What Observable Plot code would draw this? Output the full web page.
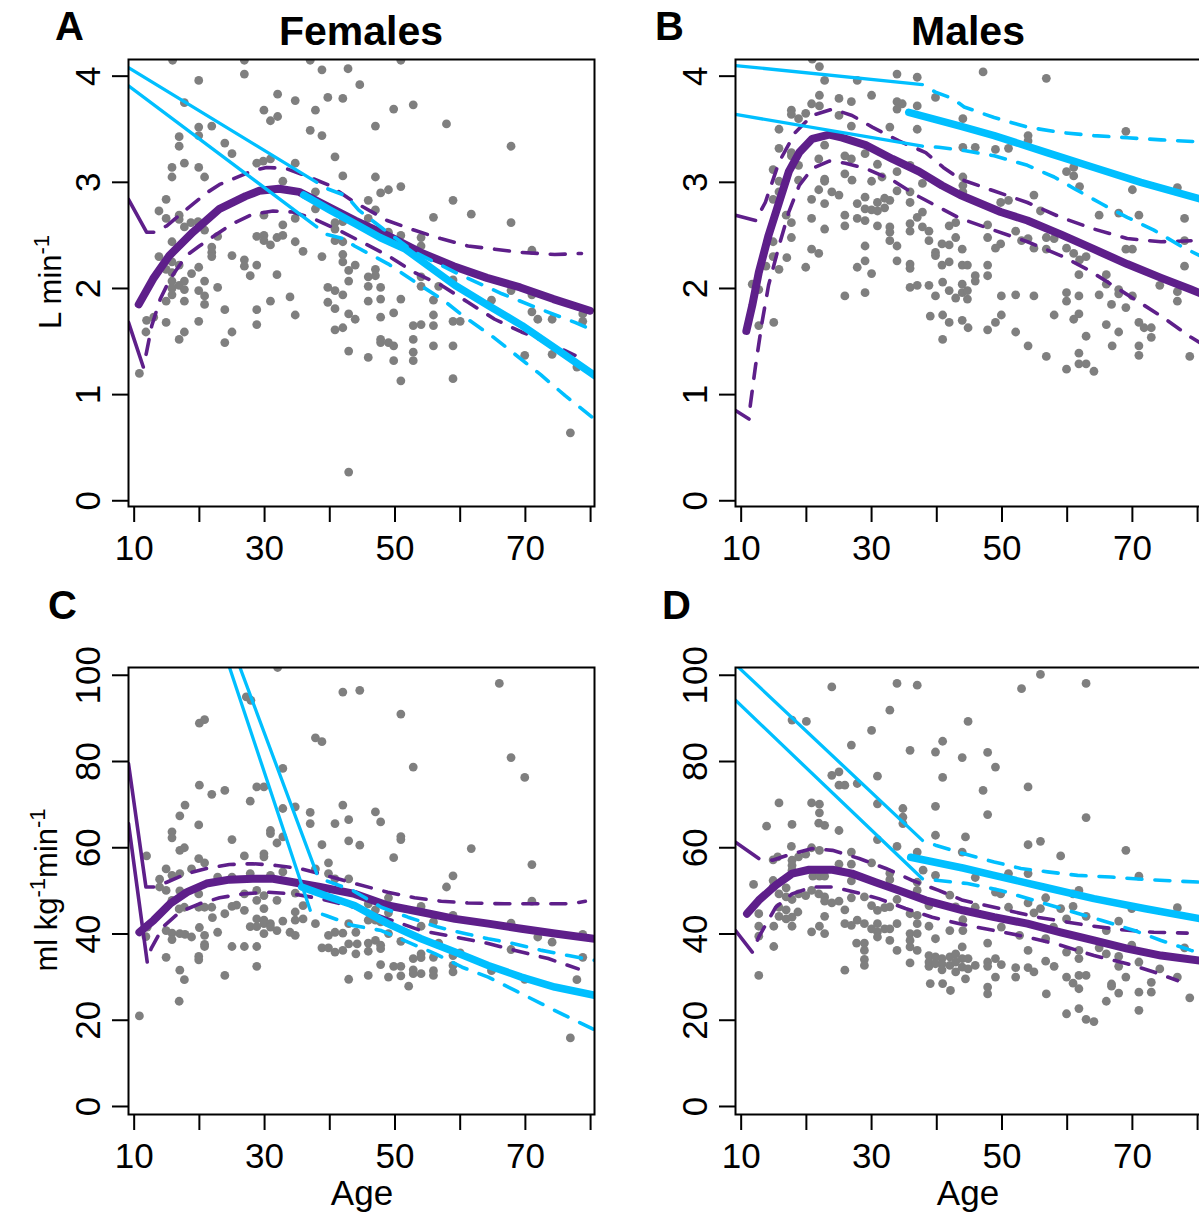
<!DOCTYPE html>
<html><head><meta charset="utf-8">
<script src="https://cdn.jsdelivr.net/npm/d3@7"></script>
<script src="https://cdn.jsdelivr.net/npm/@observablehq/plot@0.6"></script>
<style>
html,body{margin:0;padding:0;background:#fff;}
#wrap{position:relative;width:1199px;height:1213px;overflow:hidden;background:#fff;}
#wrap > svg{position:absolute;}
</style></head><body><div id="wrap"></div>
<script>
// ---------- tick values ----------
const xTickValues = [10, 20, 30, 40, 50, 60, 70, 80];
const xTickLabels = [10, 30, 50, 70];
const yTicksAbs = [0, 1, 2, 3, 4];
const yTicksRel = [0, 20, 40, 60, 80, 100];
const panelTitles = ["Females", "Males"];
const panelLetters = ["A", "B", "C", "D"];

// ---------- points [age, value] ----------
const femAbsPts = [[15.9,4.15],[26.9,4.15],[37.0,4.15],[19.9,3.96],[26.9,4.02],[38.8,4.06],[42.8,4.07],[44.6,3.92],[17.7,3.75],[32.0,3.83],[34.7,3.77],[39.7,3.80],[42.0,3.79],[29.9,3.68],[32.0,3.62],[30.9,3.58],[37.8,3.68],[19.9,3.52],[21.9,3.53],[19.9,3.44],[37.0,3.49],[38.8,3.44],[16.9,3.43],[16.9,3.34],[23.9,3.37],[25.0,3.27],[17.7,3.18],[15.8,3.14],[15.8,3.05],[19.9,3.14],[20.8,3.05],[40.8,3.24],[28.8,3.18],[29.8,3.20],[30.9,3.22],[34.7,3.18],[32.8,3.01],[42.0,3.06],[14.9,2.84],[13.8,2.73],[14.9,2.66],[16.9,2.69],[16.9,2.65],[17.7,2.58],[18.7,2.62],[20.8,2.55],[19.8,2.63],[29.9,2.69],[34.7,2.66],[32.8,2.60],[37.8,2.91],[37.8,2.75],[40.8,2.62],[40.8,2.56],[42.0,2.63],[15.8,2.44],[22.8,2.49],[28.8,2.49],[29.9,2.50],[29.9,2.45],[30.9,2.41],[31.9,2.48],[32.8,2.50],[34.7,2.44],[35.9,2.35],[40.8,2.45],[42.0,2.44],[13.8,2.30],[15.8,2.25],[14.9,2.18],[16.9,2.22],[15.8,2.15],[21.9,2.39],[21.9,2.34],[21.9,2.30],[25.0,2.31],[26.9,2.27],[26.9,2.21],[28.8,2.22],[27.8,2.12],[38.8,2.30],[42.0,2.32],[42.0,2.25],[43.9,2.22],[18.8,2.14],[19.9,2.20],[15.8,2.07],[17.7,2.07],[16.9,2.03],[15.8,2.00],[17.7,1.99],[15.8,1.94],[14.9,1.88],[17.7,1.88],[19.9,1.98],[20.8,2.07],[22.8,2.01],[20.8,1.93],[20.8,1.85],[31.9,2.13],[30.9,1.88],[33.9,1.92],[39.7,2.01],[40.8,1.98],[42.0,1.94],[39.7,1.87],[40.8,1.81],[42.9,2.07],[42.9,2.17],[42.9,1.76],[43.9,1.71],[11.9,1.70],[13.0,1.73],[14.9,1.68],[19.9,1.69],[23.9,1.80],[28.8,1.80],[11.8,1.59],[17.7,1.59],[16.9,1.52],[25.0,1.59],[23.9,1.49],[28.8,1.66],[34.7,1.75],[40.8,1.61],[42.0,1.63],[42.9,1.41],[10.8,1.20],[42.9,0.27],
[50.9,4.15],[49.8,3.69],[52.8,3.73],[47.0,3.53],[57.9,3.55],[67.8,3.34],[47.0,3.05],[47.8,2.90],[49.0,2.93],[50.9,2.96],[45.9,2.83],[58.9,2.83],[47.0,2.74],[45.9,2.66],[55.9,2.67],[61.7,2.70],[67.8,2.62],[49.0,2.53],[50.9,2.50],[54.0,2.48],[54.0,2.40],[71.0,2.36],[47.0,2.18],[45.9,2.11],[47.0,2.12],[45.9,2.02],[47.8,2.01],[54.0,2.11],[54.0,2.02],[56.7,2.02],[58.9,2.08],[45.9,1.88],[47.8,1.90],[50.9,1.90],[55.9,1.89],[67.8,1.98],[71.0,1.94],[64.8,1.89],[47.8,1.73],[49.8,1.77],[52.8,1.65],[54.0,1.66],[55.9,1.75],[55.9,1.65],[58.9,1.69],[60.0,1.69],[71.0,1.78],[71.9,1.71],[74.1,1.71],[78.8,1.76],[78.8,1.69],[47.8,1.52],[47.8,1.49],[49.0,1.49],[49.8,1.46],[52.8,1.52],[52.8,1.40],[52.8,1.32],[55.9,1.46],[58.9,1.46],[45.9,1.35],[49.8,1.32],[50.9,1.13],[58.9,1.15],[69.9,1.37],[74.1,1.38],[77.9,1.26],[76.9,0.64]];

const maleAbsPts = [[20.9,4.16],[22.0,4.09],[22.8,3.96],[27.8,3.96],[33.9,4.02],[37.0,3.99],[22.0,3.82],[30.0,3.82],[39.8,3.80],[20.8,3.74],[22.0,3.72],[25.0,3.79],[26.9,3.76],[33.9,3.76],[34.7,3.74],[33.9,3.69],[37.0,3.72],[17.7,3.68],[17.7,3.64],[19.9,3.65],[18.8,3.60],[25.0,3.63],[26.9,3.53],[32.8,3.52],[37.0,3.50],[15.8,3.50],[15.8,3.32],[22.8,3.35],[17.7,3.28],[17.7,3.25],[18.8,3.16],[21.9,3.22],[25.9,3.25],[26.9,3.22],[25.9,3.08],[29.0,3.27],[30.0,3.01],[30.9,3.17],[31.6,3.05],[33.9,3.10],[33.9,2.92],[35.9,3.16],[35.9,2.91],[37.8,2.99],[14.9,3.12],[15.8,3.01],[15.8,2.91],[18.8,3.02],[22.8,3.03],[22.8,3.01],[21.9,2.93],[20.8,2.84],[22.8,2.80],[23.9,2.91],[25.0,2.88],[27.0,3.02],[27.8,2.80],[29.0,2.86],[29.0,2.75],[30.0,2.74],[30.9,2.81],[32.0,2.85],[32.8,2.83],[32.0,2.76],[30.9,2.73],[35.9,2.81],[14.9,2.84],[16.9,2.69],[17.7,2.62],[17.7,2.48],[20.8,2.66],[22.8,2.56],[25.9,2.69],[25.9,2.59],[27.8,2.66],[29.0,2.64],[30.9,2.59],[32.8,2.58],[32.8,2.53],[32.8,2.45],[35.9,2.61],[35.9,2.54],[37.0,2.67],[37.8,2.72],[37.8,2.58],[38.8,2.54],[38.8,2.45],[39.8,2.34],[39.8,2.31],[40.8,2.42],[41.9,2.59],[42.9,2.62],[42.9,2.48],[41.9,2.41],[40.8,2.22],[41.9,2.25],[43.9,2.37],[43.9,2.22],[14.9,2.44],[14.9,2.30],[17.0,2.29],[15.8,2.18],[13.8,2.21],[19.9,2.20],[20.8,2.37],[21.9,2.33],[29.0,2.40],[29.0,2.26],[27.8,2.20],[30.0,2.14],[33.9,2.40],[33.9,2.26],[35.9,2.23],[35.9,2.19],[11.7,2.04],[12.7,1.99],[25.9,1.93],[29.0,1.96],[35.9,2.01],[37.0,2.03],[38.8,2.03],[39.8,1.93],[40.9,2.06],[41.9,1.98],[42.9,1.91],[43.9,2.04],[43.9,1.96],[12.7,1.65],[15.0,1.68],[39.0,1.74],[40.9,1.75],[41.9,1.68],[43.9,1.70],[40.9,1.52],
[47.1,4.04],[56.8,3.98],[44.0,3.60],[44.0,3.33],[45.9,3.33],[49.0,3.31],[51.0,3.32],[54.0,3.44],[54.0,3.39],[69.0,3.48],[44.0,3.05],[44.0,2.97],[44.0,2.91],[49.8,2.81],[51.0,2.83],[54.9,2.88],[55.9,2.73],[59.9,3.10],[61.0,3.14],[61.0,3.06],[61.9,2.96],[64.9,2.69],[67.9,2.71],[71.0,2.69],[70.0,2.93],[76.9,2.95],[78.0,2.66],[78.0,2.45],[47.8,2.60],[47.8,2.48],[49.8,2.42],[49.0,2.38],[52.1,2.54],[53.0,2.45],[54.0,2.47],[54.9,2.38],[56.8,2.48],[56.8,2.37],[58.0,2.47],[59.9,2.38],[61.0,2.33],[61.9,2.27],[62.9,2.30],[61.8,2.13],[69.0,2.37],[70.0,2.37],[78.0,2.21],[44.7,2.22],[45.9,2.12],[45.9,2.07],[47.8,2.22],[47.8,2.12],[44.7,1.98],[44.7,1.90],[49.9,1.93],[52.1,1.94],[54.9,1.93],[59.9,1.96],[59.9,1.88],[61.8,1.93],[64.9,1.94],[66.0,2.13],[66.0,2.04],[67.9,1.99],[67.9,1.95],[70.0,1.93],[66.8,1.85],[69.0,1.82],[74.2,2.03],[76.9,1.97],[76.9,1.88],[44.8,1.63],[47.8,1.61],[49.0,1.68],[49.9,1.75],[52.1,1.59],[54.0,1.46],[56.8,1.36],[58.0,1.75],[61.0,1.71],[61.8,1.76],[62.9,1.55],[66.0,1.66],[67.9,1.59],[71.0,1.68],[71.8,1.63],[72.9,1.63],[72.9,1.54],[66.9,1.46],[71.0,1.46],[71.0,1.37],[61.8,1.39],[61.8,1.29],[62.9,1.29],[59.9,1.24],[64.1,1.22],[78.8,1.36]];

const femRelPts = [[32.0,101.8],[27.2,95.0],[27.9,94.2],[20.0,88.9],[20.8,89.7],[42.0,96.1],[44.6,96.5],[37.8,85.5],[38.8,84.6],[32.8,78.4],[20.0,74.5],[21.9,72.4],[23.9,73.3],[28.8,74.1],[29.9,74.1],[27.8,70.8],[32.8,69.1],[34.7,69.5],[37.0,68.2],[37.0,65.6],[42.0,69.9],[42.9,66.5],[40.8,65.6],[42.9,61.6],[44.6,60.6],[17.8,69.9],[17.0,67.4],[19.9,65.3],[15.8,63.7],[15.8,62.3],[17.0,59.4],[17.7,60.0],[11.9,58.1],[25.0,61.9],[30.9,64.0],[30.9,63.3],[32.8,62.5],[31.9,61.1],[38.8,60.7],[26.9,58.1],[29.9,58.6],[29.9,57.9],[19.9,57.5],[20.8,56.5],[18.8,55.1],[14.9,55.1],[15.8,53.6],[17.0,54.0],[13.9,52.7],[13.9,50.9],[14.9,50.1],[17.0,50.0],[22.8,53.2],[25.0,53.2],[27.8,54.0],[30.9,53.6],[32.8,54.4],[37.8,55.1],[39.8,56.5],[39.8,54.0],[40.8,52.8],[42.9,52.8],[15.8,47.8],[16.9,45.8],[17.7,46.2],[19.9,49.3],[20.8,46.2],[21.9,46.2],[22.0,43.8],[19.9,46.2],[23.9,44.7],[25.0,46.4],[25.7,46.7],[26.9,45.5],[26.9,49.3],[28.8,50.1],[28.8,47.8],[29.9,48.9],[29.9,45.9],[31.9,47.8],[34.7,49.5],[35.9,46.6],[34.7,45.1],[35.9,43.5],[34.7,43.2],[32.8,43.0],[28.8,43.5],[27.8,41.7],[28.8,41.7],[29.9,43.2],[29.9,42.4],[30.9,42.4],[29.9,40.1],[30.9,41.6],[31.9,40.8],[33.9,40.4],[34.7,39.7],[37.8,42.4],[39.8,39.7],[40.8,40.4],[42.0,40.2],[42.9,42.4],[44.0,40.4],[14.9,40.8],[15.8,40.2],[15.8,38.7],[17.0,40.1],[17.8,39.9],[18.8,39.3],[20.0,41.5],[20.8,39.7],[22.8,40.4],[12.0,41.6],[11.8,39.4],[20.8,37.6],[20.8,37.1],[25.0,37.1],[26.9,37.1],[28.8,37.1],[38.8,36.8],[39.8,36.8],[40.8,35.8],[42.0,36.2],[42.9,37.7],[44.0,35.4],[14.9,34.6],[19.9,34.8],[19.9,34.0],[17.0,31.6],[17.7,29.4],[23.9,30.4],[28.8,32.5],[42.9,29.5],[16.9,24.4],[10.8,21.0],
[66.0,98.1],[50.9,91.0],[52.8,78.7],[67.8,80.9],[69.9,76.3],[47.0,68.3],[47.8,66.0],[50.9,62.6],[50.9,61.9],[49.8,57.7],[61.7,59.8],[71.0,56.1],[58.9,53.5],[57.9,50.9],[49.0,48.4],[49.0,46.4],[45.9,47.0],[47.0,45.6],[49.0,44.9],[54.0,46.4],[55.9,42.8],[58.9,44.3],[71.0,47.6],[45.9,43.2],[47.0,43.2],[47.8,42.8],[49.0,40.1],[50.9,38.3],[54.0,41.8],[56.7,37.9],[44.2,37.7],[45.9,37.9],[47.0,38.5],[47.8,37.4],[47.8,36.6],[45.9,36.0],[52.8,34.3],[54.0,35.4],[54.0,34.5],[55.9,34.6],[58.9,35.0],[60.0,35.6],[67.8,42.5],[67.8,36.4],[71.9,39.3],[74.1,38.1],[78.8,39.9],[78.8,34.6],[64.8,31.5],[69.9,29.5],[77.9,29.4],[47.8,32.9],[49.8,32.5],[50.9,32.5],[52.8,31.7],[52.8,30.8],[54.0,30.8],[55.9,31.5],[55.9,30.4],[58.9,32.7],[58.9,31.2],[45.9,30.4],[49.0,30.0],[50.9,30.3],[52.1,27.9],[76.9,15.9]];

const maleRelPts = [[23.9,97.3],[33.9,98.1],[37.0,97.7],[32.8,91.9],[17.8,89.6],[20.0,89.3],[30.0,87.2],[26.9,83.8],[35.9,82.6],[39.8,82.2],[40.9,84.7],[43.9,80.9],[23.9,76.8],[25.0,77.6],[25.0,74.5],[25.9,74.5],[27.8,74.9],[30.9,76.6],[40.9,76.3],[15.8,70.4],[20.8,70.4],[22.0,70.1],[22.0,68.1],[30.9,70.2],[34.8,69.1],[39.8,69.6],[13.9,65.0],[17.8,65.4],[21.9,65.7],[22.8,65.2],[25.0,64.0],[34.8,67.1],[34.8,65.6],[30.9,61.9],[33.9,60.3],[39.8,62.9],[44.4,62.5],[17.7,60.3],[20.8,60.0],[22.0,59.4],[26.9,59.0],[15.6,57.9],[14.9,57.2],[17.8,57.1],[17.8,55.9],[17.8,54.8],[18.8,57.9],[19.9,58.5],[26.9,56.2],[30.0,56.5],[37.0,59.0],[37.9,54.8],[39.8,53.6],[43.9,59.0],[21.0,53.4],[22.0,53.4],[22.8,53.4],[25.0,56.2],[26.9,52.3],[32.8,54.1],[32.8,52.6],[37.0,52.0],[37.0,50.1],[11.9,51.5],[14.9,52.4],[14.9,50.9],[15.8,49.3],[16.9,50.7],[16.9,48.6],[17.8,48.0],[18.8,49.3],[19.9,48.9],[20.8,50.1],[21.9,49.3],[22.8,48.6],[22.8,47.6],[23.9,47.2],[25.0,47.6],[25.9,45.6],[26.9,48.4],[28.9,48.6],[30.0,46.6],[30.9,45.5],[32.0,46.1],[32.8,46.3],[33.9,48.0],[35.9,44.7],[37.0,44.3],[38.8,46.6],[42.0,49.0],[42.9,46.3],[15.8,46.2],[16.9,45.6],[15.8,44.1],[16.9,43.5],[17.8,43.9],[18.7,45.1],[12.7,44.7],[12.7,41.8],[12.7,39.5],[15.0,41.8],[17.8,41.8],[20.8,40.5],[22.0,41.8],[22.8,44.1],[22.8,40.1],[25.9,42.4],[26.9,42.0],[27.8,43.2],[28.9,42.4],[30.0,41.2],[30.9,42.4],[30.9,40.5],[32.0,41.2],[30.9,39.3],[32.8,41.2],[33.9,42.4],[35.9,40.1],[37.0,42.4],[37.0,40.1],[38.8,41.8],[39.8,38.9],[42.0,40.8],[32.8,38.5],[27.7,37.9],[28.9,37.9],[28.9,36.2],[28.9,34.1],[28.9,32.7],[35.9,38.5],[35.9,37.0],[37.0,36.2],[33.9,36.2],[15.0,37.1],[25.9,31.6],[35.9,33.3],[12.7,30.4],[38.8,35.0],[38.8,33.5],[38.8,32.5],[39.8,34.7],[39.8,33.1],[40.8,34.3],[40.8,33.0],[40.8,31.7],[42.0,34.7],[42.0,32.7],[42.9,35.4],[42.9,33.5],[42.9,31.2],[43.9,37.0],[43.9,34.3],[43.9,32.3],[39.0,28.5],[40.9,28.5],[42.1,26.9],[44.4,29.6],
[55.9,100.2],[62.9,98.1],[53.0,96.9],[44.8,89.3],[47.8,82.1],[49.0,78.7],[47.1,73.3],[54.0,74.1],[47.8,67.7],[62.9,67.0],[54.0,60.7],[55.9,61.5],[59.0,58.1],[69.0,59.4],[45.9,53.1],[51.0,54.0],[54.0,54.0],[71.0,53.4],[49.0,49.7],[49.8,49.3],[54.0,47.2],[56.7,48.4],[60.9,49.3],[61.8,50.1],[45.9,46.2],[51.0,46.2],[54.9,44.9],[55.9,45.9],[59.0,45.9],[60.9,46.4],[62.9,44.1],[69.9,45.9],[76.9,46.1],[44.0,43.3],[44.0,40.8],[49.9,41.6],[52.7,39.7],[57.9,41.6],[59.9,43.5],[67.9,43.0],[66.0,40.8],[69.9,37.4],[78.0,36.8],[47.8,37.9],[54.0,36.2],[56.7,38.9],[59.9,35.8],[61.8,36.2],[61.8,34.3],[64.9,36.8],[66.0,35.4],[67.9,34.8],[67.9,32.5],[71.0,33.5],[74.2,31.9],[44.8,34.3],[45.9,32.7],[44.8,31.9],[47.8,33.5],[47.8,32.5],[49.0,34.3],[49.9,32.9],[52.1,32.2],[52.1,30.0],[54.0,32.2],[54.9,31.2],[56.7,33.7],[58.0,32.5],[49.0,30.0],[47.8,27.7],[47.8,26.1],[56.8,26.1],[59.9,30.0],[60.9,28.6],[61.8,30.4],[62.9,30.4],[61.8,27.3],[66.8,28.4],[66.8,27.9],[67.9,26.3],[69.0,30.0],[71.0,26.5],[72.9,28.8],[72.9,26.5],[76.9,30.0],[66.0,24.4],[71.0,22.3],[59.9,21.5],[61.8,22.7],[62.9,20.2],[64.1,19.7],[78.8,25.2]];

// ---------- fitted curves and confidence bounds [age, value] ----------
// Females, L/min
const femAbsPurpleFit = [[10.7,1.85],[12.9,2.09],[15.4,2.31],[19.0,2.53],[23.1,2.75],[27.1,2.87],[29.2,2.92],[32.2,2.94],[35.3,2.91],[39.4,2.78],[43.9,2.64],[48.8,2.50],[53.9,2.34],[59.0,2.21],[64.1,2.10],[69.2,2.01],[74.3,1.90],[79.9,1.79]];
const femAbsPurpleHiStart = [[9.13,2.84],[11.9,2.53],[13.0,2.53]];
const femAbsPurpleHi = [[13.0,2.53],[15.0,2.59],[17.5,2.72],[21.1,2.90],[23.1,2.98],[25.1,3.03],[28.2,3.11],[30.3,3.14],[33.3,3.13],[36.4,3.06],[40.0,2.97],[43.6,2.82],[48.8,2.64],[52.9,2.55],[57.0,2.47],[61.2,2.40],[65.3,2.37],[69.4,2.34],[74.5,2.32],[78.6,2.33]];
const femAbsPurpleLoStart = [[9.13,1.68],[11.4,1.26]];
const femAbsPurpleLo = [[11.4,1.26],[11.9,1.40],[12.7,1.65],[14.0,1.90],[15.5,2.09],[18.0,2.31],[20.0,2.40],[23.1,2.53],[25.1,2.61],[28.2,2.70],[31.3,2.73],[34.3,2.72],[37.4,2.66],[41.0,2.56],[44.2,2.46],[48.9,2.31],[53.0,2.15],[57.1,2.03],[61.2,1.87],[65.3,1.71],[69.4,1.59],[73.5,1.49],[77.6,1.37]];
const femAbsCyanFit = [[36.0,2.88],[40.0,2.74],[43.9,2.61],[47.7,2.48],[51.6,2.37],[55.4,2.20],[59.2,2.03],[64.3,1.84],[69.5,1.65],[75.0,1.42],[80.6,1.18]];
const femAbsCyanHiStart = [[9.13,4.08],[38.0,3.00]];
const femAbsCyanHi = [[38.0,3.00],[39.6,2.94],[42.6,2.87],[44.4,2.74],[48.2,2.56],[53.1,2.34],[60.3,2.12],[66.4,1.95],[72.5,1.80],[77.6,1.68],[80.6,1.60]];
const femAbsCyanLoStart = [[9.13,3.91],[38.0,2.58]];
const femAbsCyanLo = [[38.0,2.58],[39.5,2.51],[42.1,2.47],[43.8,2.40],[49.0,2.23],[53.1,2.06],[57.2,1.90],[60.7,1.73],[64.9,1.55],[68.4,1.38],[72.3,1.19],[76.1,0.99],[80.6,0.77]];

// Males, L/min
const maleAbsPurpleFit = [[10.8,1.60],[11.7,1.84],[12.7,2.15],[14.2,2.50],[15.8,2.81],[17.3,3.10],[18.9,3.28],[20.9,3.41],[23.5,3.45],[25.5,3.42],[29.1,3.35],[33.2,3.22],[37.3,3.10],[40.8,2.97],[43.6,2.88],[49.8,2.72],[53.9,2.64],[59.0,2.51],[64.1,2.37],[69.2,2.23],[74.4,2.10],[79.0,1.99],[80.6,1.95]];
const maleAbsPurpleHiStart = [[9.13,2.69],[12.2,2.64]];
const maleAbsPurpleHi = [[12.2,2.64],[13.7,2.81],[15.8,3.19],[18.3,3.47],[20.9,3.63],[24.0,3.69],[27.0,3.63],[30.1,3.52],[34.2,3.39],[38.3,3.28],[41.0,3.14],[43.6,3.03],[48.7,2.92],[53.9,2.81],[59.0,2.67],[64.1,2.56],[69.2,2.47],[74.4,2.44],[79.0,2.45]];
const maleAbsPurpleLoStart = [[9.13,0.85],[11.2,0.77]];
const maleAbsPurpleLo = [[11.2,0.77],[11.4,0.90],[12.2,1.27],[13.2,1.68],[14.2,2.03],[15.8,2.40],[17.3,2.72],[18.9,2.97],[20.9,3.13],[23.5,3.20],[26.0,3.18],[29.1,3.13],[33.2,3.02],[36.8,2.88],[40.8,2.75],[43.6,2.66],[48.7,2.55],[53.9,2.44],[59.0,2.31],[63.1,2.18],[66.2,2.06],[70.3,1.90],[74.4,1.74],[79.0,1.54],[80.6,1.48]];
const maleAbsCyanFit = [[35.7,3.66],[43.6,3.53],[48.8,3.44],[56.9,3.28],[64.1,3.14],[71.3,3.00],[80.6,2.84]];
const maleAbsCyanHiStart = [[9.13,4.10],[37.8,3.92]];
const maleAbsCyanHi = [[37.8,3.92],[39.8,3.85],[42.4,3.79],[44.2,3.71],[48.8,3.61],[53.9,3.52],[59.0,3.47],[64.1,3.44],[69.2,3.42],[74.4,3.40],[80.6,3.38]];
const maleAbsCyanLoStart = [[9.13,3.64],[37.8,3.34]];
const maleAbsCyanLo = [[37.8,3.34],[40.3,3.33],[44.2,3.30],[48.8,3.25],[53.9,3.16],[58.0,3.05],[61.1,2.94],[65.2,2.80],[69.2,2.67],[73.3,2.55],[77.4,2.40],[80.6,2.30]];

// Females, ml/kg/min
const femRelPurpleFit = [[10.8,40.4],[13.0,43.2],[15.5,47.0],[18.1,49.7],[21.1,51.7],[24.6,52.6],[28.2,52.8],[31.3,52.8],[34.4,52.0],[38.5,50.9],[43.8,49.3],[48.9,46.6],[54.0,45.1],[59.2,43.5],[64.3,42.4],[69.4,41.2],[74.5,40.1],[80.6,38.9]];
const femRelPurpleHiStart = [[9.13,79.5],[11.8,50.9],[13.0,50.9]];
const femRelPurpleHi = [[13.0,50.9],[15.0,52.0],[18.1,54.0],[21.1,55.2],[24.6,56.1],[28.2,56.3],[31.8,55.9],[35.4,55.2],[39.4,53.6],[43.8,51.7],[48.9,49.7],[53.0,48.4],[57.1,47.6],[61.2,47.2],[66.8,47.0],[72.5,47.0],[77.1,47.0],[79.2,47.6]];
const femRelPurpleLoStart = [[9.13,65.6],[12.0,33.5]];
const femRelPurpleLo = [[12.0,33.5],[12.6,36.6],[14.4,41.6],[17.0,45.1],[20.0,47.0],[23.1,48.4],[26.7,49.3],[30.3,49.7],[34.4,49.3],[38.5,48.2],[43.8,46.2],[48.9,43.5],[54.0,40.8],[59.2,39.3],[64.3,37.8],[69.4,35.8],[73.5,34.3],[78.1,31.9]];
const femRelCyanFit = [[35.7,50.9],[39.5,48.8],[43.8,46.6],[48.9,42.4],[54.0,38.9],[59.2,35.8],[64.3,32.7],[69.4,30.0],[74.5,27.7],[80.6,25.8]];
const femRelCyanHiStart = [[9.13,171.2],[38.0,54.0]];
const femRelCyanHi = [[38.0,54.0],[39.4,52.4],[43.5,50.1],[47.9,46.2],[52.0,43.9],[56.6,41.6],[60.7,40.1],[64.3,38.9],[68.4,37.7],[72.5,36.2],[76.6,35.0],[80.6,33.9]];
const femRelCyanLoStart = [[9.13,172.3],[37.0,45.5]];
const femRelCyanLo = [[37.0,45.5],[39.4,44.3],[43.5,42.0],[47.9,40.8],[52.0,38.1],[56.2,35.4],[60.3,32.3],[64.3,30.0],[68.4,26.9],[72.5,23.8],[76.6,20.7],[80.6,17.8]];

// Males, ml/kg/min
const maleRelPurpleFit = [[10.9,44.7],[12.7,47.8],[15.3,51.3],[17.8,54.0],[20.4,54.9],[24.0,54.9],[27.0,54.0],[30.6,52.0],[34.2,50.1],[38.3,47.8],[44.0,45.5],[48.8,43.9],[53.9,42.4],[59.0,40.4],[64.1,38.5],[69.2,36.6],[74.4,35.0],[80.6,33.8]];
const maleRelPurpleHiStart = [[9.13,61.3],[12.7,57.5]];
const maleRelPurpleHi = [[12.7,57.5],[14.8,57.1],[17.8,58.6],[20.9,59.8],[24.0,59.4],[28.1,57.5],[32.2,55.2],[36.3,52.4],[40.3,50.1],[44.0,47.8],[48.8,46.2],[55.4,43.9],[63.1,42.0],[68.2,41.0],[73.3,40.4],[78.4,40.2]];
const maleRelPurpleLoStart = [[9.13,40.8],[11.7,35.8]];
const maleRelPurpleLo = [[11.7,35.8],[12.7,39.3],[15.3,46.2],[17.8,49.3],[20.9,50.9],[24.0,50.9],[27.5,49.7],[31.1,48.2],[35.2,45.9],[39.3,43.9],[44.0,42.2],[48.8,40.8],[53.9,39.3],[59.0,37.4],[64.1,35.0],[69.2,33.1],[73.3,31.2],[76.9,29.2]];
const maleRelCyanFit = [[36.0,57.8],[44.0,55.3],[48.8,53.6],[56.4,50.9],[64.1,48.2],[71.8,45.9],[80.6,43.5]];
const maleRelCyanHiStart = [[9.13,102.5],[37.8,61.7]];
const maleRelCyanHi = [[37.8,61.7],[39.8,60.6],[42.4,59.4],[44.2,58.6],[48.8,56.7],[52.9,55.2],[57.0,54.4],[61.6,53.6],[66.7,53.2],[72.4,52.6],[80.6,52.0]];
const maleRelCyanLoStart = [[9.13,94.2],[37.8,52.8]];
const maleRelCyanLo = [[37.8,52.8],[40.3,52.4],[44.7,51.7],[49.8,50.1],[54.9,47.8],[60.0,45.5],[65.2,43.2],[70.3,40.8],[74.4,38.5],[79.0,36.2],[80.6,35.5]];

// ---------- drawing ----------
const FONT = "'Liberation Sans', Arial, Helvetica, sans-serif";
const PURPLE = "#5e1f8a", CYAN = "#00bfff", GRAY = "#7f7f7f";
const X_DOMAIN = [9.13, 80.6];
const wrap = document.getElementById("wrap");

const acc = {x: d => d[0], y: d => d[1]};
const solidLine = (data, color, w) => Plot.line(data, {...acc, stroke: color, strokeWidth: w, strokeLinecap: "round", strokeLinejoin: "round", clip: true});
const dashLine = (data, color) => Plot.line(data, {...acc, stroke: color, strokeWidth: 3.6, strokeDasharray: "15,13", strokeDashoffset: 15, strokeLinecap: "round", strokeLinejoin: "round", clip: true});

function panel(left, top, s) {
  const svg = Plot.plot({
    width: 606, height: 606,
    marginLeft: 128, marginRight: 12, marginTop: 59, marginBottom: 100,
    x: {domain: X_DOMAIN},
    y: {domain: s.yDomain},
    style: {fontFamily: FONT, fontSize: "35px", background: "transparent", color: "black", overflow: "visible"},
    marks: [
      Plot.dot(s.pts, {...acc, r: 4.4, fill: GRAY, stroke: "none", clip: true}),
      solidLine(s.pHiS, PURPLE, 3.6),
      solidLine(s.pLoS, PURPLE, 3.6),
      dashLine(s.pHi, PURPLE),
      dashLine(s.pLo, PURPLE),
      solidLine(s.pFit, PURPLE, 8),
      solidLine(s.cHiS, CYAN, 3.3),
      solidLine(s.cLoS, CYAN, 3.3),
      dashLine(s.cHi, CYAN),
      dashLine(s.cLo, CYAN),
      solidLine(s.cFit, CYAN, 7.5),
      Plot.frame({stroke: "black", strokeWidth: 2}),
      Plot.axisX({ticks: xTickValues, tickSize: 16, tickPadding: 13, strokeWidth: 2, label: null,
        tickFormat: d => xTickLabels.includes(d) ? String(d) : ""}),
      Plot.axisY({ticks: s.yTicks, tickSize: 16, strokeWidth: 2, label: null, tickFormat: () => ""}),
      Plot.text(s.yTicks, {frameAnchor: "left", y: d => d, text: d => String(d), rotate: -90, dx: -40,
        textAnchor: "middle", lineAnchor: "middle", fontSize: 35, fill: "black"})
    ]
  });
  svg.style.position = "absolute";
  svg.style.left = left + "px";
  svg.style.top = top + "px";
  wrap.appendChild(svg);
}

const yAbs = [-0.054, 4.157], yRel = [-1.86, 101.8];
panel(0, 0, {pts: femAbsPts, yDomain: yAbs, yTicks: yTicksAbs,
  pFit: femAbsPurpleFit, pHiS: femAbsPurpleHiStart, pHi: femAbsPurpleHi, pLoS: femAbsPurpleLoStart, pLo: femAbsPurpleLo,
  cFit: femAbsCyanFit, cHiS: femAbsCyanHiStart, cHi: femAbsCyanHi, cLoS: femAbsCyanLoStart, cLo: femAbsCyanLo});
panel(607, 0, {pts: maleAbsPts, yDomain: yAbs, yTicks: yTicksAbs,
  pFit: maleAbsPurpleFit, pHiS: maleAbsPurpleHiStart, pHi: maleAbsPurpleHi, pLoS: maleAbsPurpleLoStart, pLo: maleAbsPurpleLo,
  cFit: maleAbsCyanFit, cHiS: maleAbsCyanHiStart, cHi: maleAbsCyanHi, cLoS: maleAbsCyanLoStart, cLo: maleAbsCyanLo});
panel(0, 608, {pts: femRelPts, yDomain: yRel, yTicks: yTicksRel,
  pFit: femRelPurpleFit, pHiS: femRelPurpleHiStart, pHi: femRelPurpleHi, pLoS: femRelPurpleLoStart, pLo: femRelPurpleLo,
  cFit: femRelCyanFit, cHiS: femRelCyanHiStart, cHi: femRelCyanHi, cLoS: femRelCyanLoStart, cLo: femRelCyanLo});
panel(607, 608, {pts: maleRelPts, yDomain: yRel, yTicks: yTicksRel,
  pFit: maleRelPurpleFit, pHiS: maleRelPurpleHiStart, pHi: maleRelPurpleHi, pLoS: maleRelPurpleLoStart, pLo: maleRelPurpleLo,
  cFit: maleRelCyanFit, cHiS: maleRelCyanHiStart, cHi: maleRelCyanHi, cLoS: maleRelCyanLoStart, cLo: maleRelCyanLo});

// ---------- titles, panel letters, axis titles ----------
const ov = d3.select(wrap).append("svg").attr("width", 1199).attr("height", 1213)
  .style("left", "0px").style("top", "0px").style("pointer-events", "none")
  .attr("font-family", FONT).attr("fill", "black");
function txt(x, y, s, size, weight, anchor) {
  ov.append("text").attr("x", x).attr("y", y).attr("font-size", size).attr("font-weight", weight)
    .attr("text-anchor", anchor).text(s);
}
txt(55, 40, panelLetters[0], 40, "bold", "start");
txt(655, 40, panelLetters[1], 40, "bold", "start");
txt(48, 619, panelLetters[2], 40, "bold", "start");
txt(662, 619, panelLetters[3], 40, "bold", "start");
txt(361, 45, panelTitles[0], 41, "bold", "middle");
txt(968, 45, panelTitles[1], 41, "bold", "middle");
txt(362, 1205, "Age", 35, "normal", "middle");
txt(968, 1205, "Age", 35, "normal", "middle");

const yl1 = ov.append("text").attr("transform", "translate(61,282) rotate(-90)").attr("text-anchor", "middle").attr("font-size", 31);
yl1.append("tspan").text("L min");
yl1.append("tspan").attr("font-size", 22).attr("dy", -12).text("-1");

const yl2 = ov.append("text").attr("transform", "translate(57,890) rotate(-90)").attr("text-anchor", "middle").attr("font-size", 31);
yl2.append("tspan").text("ml kg");
yl2.append("tspan").attr("font-size", 22).attr("dy", -12).text("-1");
yl2.append("tspan").attr("dy", 12).text("min");
yl2.append("tspan").attr("font-size", 22).attr("dy", -12).text("-1");
</script></body></html>
